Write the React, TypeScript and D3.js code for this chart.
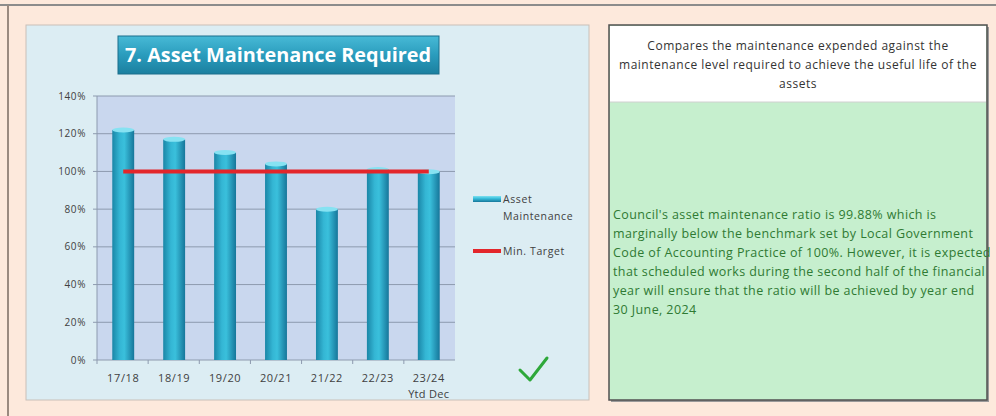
import React from "react";
import * as d3 from "d3";

const categories = ["17/18", "18/19", "19/20", "20/21", "21/22", "22/23", "23/24"];
const categorySub = ["", "", "", "", "", "", "Ytd Dec"];
const assetMaintenance = [122, 117, 110, 104, 80, 101, 99.88];
const minTarget = [100, 100, 100, 100, 100, 100, 100];
const yTicks = [0, 20, 40, 60, 80, 100, 120, 140];
const title = "7. Asset Maintenance Required";
const headerLines = [
  "Compares the maintenance expended against the",
  "maintenance level required to achieve the useful life of the",
  "assets",
];
const bodyLines = [
  "Council's asset maintenance ratio is 99.88% which is",
  "marginally below the benchmark set by Local Government",
  "Code of Accounting Practice of 100%. However, it is expected",
  "that scheduled works during the second half of the financial",
  "year will ensure that the ratio will be achieved by year end",
  "30 June, 2024",
];

const FONT = "'Open Sans', 'DejaVu Sans', sans-serif";

export default function App() {
  const plot = { left: 97, right: 455, top: 96, bottom: 360 };
  const x = d3
    .scaleBand<string>()
    .domain(categories)
    .range([plot.left, plot.right])
    .paddingInner(0.57)
    .paddingOuter(0.3);
  const y = d3.scaleLinear().domain([0, 140]).range([plot.bottom, plot.top]);
  const bw = x.bandwidth();
  const cx = (c: string) => (x(c) as number) + bw / 2;

  const targetLine = d3
    .line<number>()
    .x((_, i) => cx(categories[i]))
    .y((d) => y(d))(minTarget) as string;

  return (
    <svg
      width={996}
      height={416}
      style={{ position: "absolute", left: 0, top: 0, display: "block" }}
      fontFamily={FONT}
    >
      <defs>
        <linearGradient id="barGrad" x1="0" x2="1" y1="0" y2="0">
          <stop offset="0" stopColor="#1a86a7" />
          <stop offset="0.35" stopColor="#34b6d4" />
          <stop offset="0.55" stopColor="#3ac0dc" />
          <stop offset="1" stopColor="#16769a" />
        </linearGradient>
        <linearGradient id="titleGrad" x1="0" x2="0" y1="0" y2="1">
          <stop offset="0" stopColor="#48bad6" />
          <stop offset="0.5" stopColor="#2a9cbd" />
          <stop offset="1" stopColor="#1b7f9f" />
        </linearGradient>
        <linearGradient id="legGrad" x1="0" x2="0" y1="0" y2="1">
          <stop offset="0" stopColor="#7fe0f0" />
          <stop offset="0.4" stopColor="#3ac0dc" />
          <stop offset="1" stopColor="#16769a" />
        </linearGradient>
      </defs>
      {/* background */}
      <rect x={0} y={0} width={996} height={416} fill="#fde9dc" />
      <line x1={0} x2={996} y1={5} y2={5} stroke="#8c8c8c" strokeWidth={2} />
      <line x1={8} x2={8} y1={5} y2={416} stroke="#9a8a80" strokeWidth={2} />

      {/* chart panel */}
      <rect x={26} y={25} width={563} height={375} fill="#dcedf3" stroke="#c9c0b8" strokeWidth={1} />

      {/* title box */}
      <rect x={118} y={36} width={321} height={38} fill="url(#titleGrad)" stroke="#1a6f8c" strokeWidth={1} />
      <text
        x={278}
        y={62}
        textAnchor="middle"
        fill="#ffffff"
        fontWeight="bold"
        fontSize={19}
        textLength={306}
        lengthAdjust="spacingAndGlyphs"
      >
        {title}
      </text>

      {/* plot area */}
      <rect x={plot.left} y={plot.top} width={plot.right - plot.left} height={plot.bottom - plot.top} fill="#c9d7ee" />
      {yTicks.map((t) => (
        <g key={t}>
          {t > 0 && (
            <line x1={plot.left} x2={plot.right} y1={y(t)} y2={y(t)} stroke="#8d9aae" strokeWidth={1} />
          )}
          <line x1={plot.left - 4} x2={plot.left} y1={y(t)} y2={y(t)} stroke="#8d9aae" />
          <text x={plot.left - 11} y={y(t) + 3.5} textAnchor="end" fontSize={10} letterSpacing={0.6} fill="#404040">
            {t}%
          </text>
        </g>
      ))}
      <line x1={plot.left} x2={plot.left} y1={plot.top} y2={plot.bottom} stroke="#8d9aae" />
      <line x1={plot.left} x2={plot.right} y1={plot.bottom} y2={plot.bottom} stroke="#8d9aae" />
      {categories.map((c, i) => {
        const bx = plot.left + ((plot.right - plot.left) / categories.length) * i;
        return <line key={"tk" + c} x1={bx} x2={bx} y1={plot.bottom} y2={plot.bottom + 4} stroke="#8d9aae" />;
      })}

      {/* bars */}
      {categories.map((c, i) => {
        const v = assetMaintenance[i];
        const top = y(v);
        return (
          <g key={c}>
            <rect x={x(c)} y={top} width={bw} height={plot.bottom - top} fill="url(#barGrad)" />
            <ellipse cx={cx(c)} cy={top} rx={bw / 2} ry={2.5} fill="#86e2f2" />
          </g>
        );
      })}

      {/* target line */}
      <path d={targetLine} fill="none" stroke="#e3262b" strokeWidth={4} />

      {/* x labels */}
      {categories.map((c, i) => (
        <g key={"xl" + c}>
          <text x={cx(c)} y={382} textAnchor="middle" fontSize={11} letterSpacing={0.6} fill="#404040">
            {c}
          </text>
          {categorySub[i] && (
            <text x={cx(c)} y={398} textAnchor="middle" fontSize={11} letterSpacing={0.3} fill="#404040">
              {categorySub[i]}
            </text>
          )}
        </g>
      ))}

      {/* legend */}
      <rect x={473} y={196} width={28} height={6} fill="url(#legGrad)" />
      <text x={503} y={203} fontSize={10.5} letterSpacing={0.6} fill="#404040">Asset</text>
      <text x={503} y={220} fontSize={10.5} letterSpacing={0.6} fill="#404040">Maintenance</text>
      <line x1={473} x2={501} y1={251} y2={251} stroke="#e3262b" strokeWidth={4} />
      <text x={503} y={255} fontSize={10.5} letterSpacing={0.6} fill="#404040">Min. Target</text>

      {/* check mark */}
      <path d="M520,370 L530,380 L547,358" fill="none" stroke="#2ea83a" strokeWidth={3} strokeLinecap="round" strokeLinejoin="round" />

      {/* right panel */}
      <rect x={611} y={27} width={378} height={375} fill="#9a9a9a" />
      <rect x={609} y={25} width={378} height={375} fill="#c6efce" stroke="#505050" strokeWidth={1.5} />
      <rect x={610} y={26} width={376} height={76} fill="#ffffff" />
      <line x1={610} x2={986} y1={102} y2={102} stroke="#d0d0d0" />
      {headerLines.map((l, i) => (
        <text key={"h" + i} x={798} y={50 + i * 19} textAnchor="middle" fontSize={12} letterSpacing={0.5} fill="#333333">
          {l}
        </text>
      ))}
      {bodyLines.map((l, i) => (
        <text key={"b" + i} x={613} y={219 + i * 19} fontSize={12.5} letterSpacing={0.4} fill="#2f7a33">
          {l}
        </text>
      ))}
    </svg>
  );
}
